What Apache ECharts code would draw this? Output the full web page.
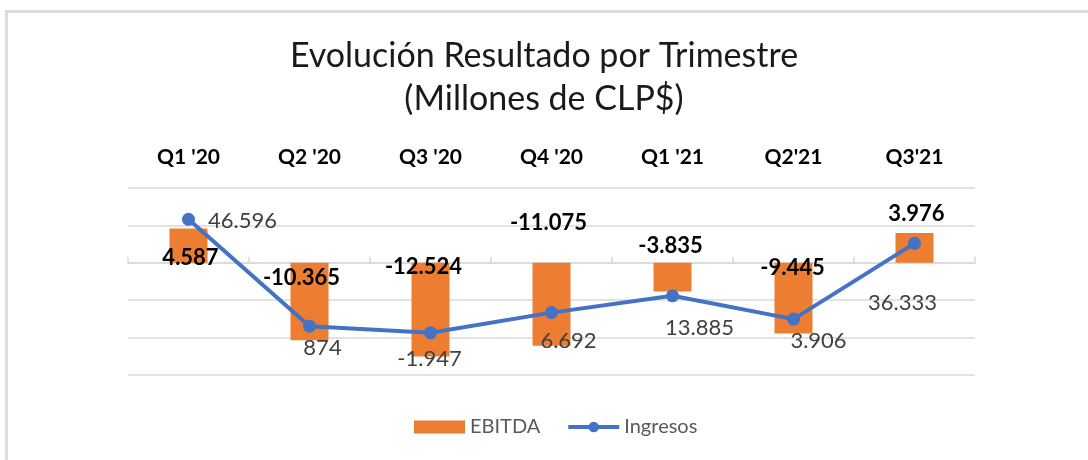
<!DOCTYPE html>
<html>
<head>
<meta charset="utf-8">
<script src="https://cdn.jsdelivr.net/npm/echarts@6/dist/echarts.min.js"></script>
<style>
    html, body { margin: 0; padding: 0; background: #fff; }
    #chart { width: 1088px; height: 460px; }
    .frame {
        position: absolute;
        left: 5px;
        top: 10px;
        width: 1090px;
        height: 460px;
        border-top: 3px solid #dcdcdc;
        border-left: 3px solid #dcdcdc;
        pointer-events: none;
    }
</style>
</head>
<body>
<div id="chart"></div>
<div class="frame"></div>
<script>
// trimestres
const quarters = ["Q1 '20", "Q2 '20", "Q3 '20", "Q4 '20", "Q1 '21", "Q2'21", "Q3'21"]
// EBITDA (millones CLP$)
const ebitda = [4587, -10365, -12524, -11075, -3835, -9445, 3976]
// Ingresos (millones CLP$)
const ingresos = [46596, 874, -1947, 6692, 13885, 3906, 36333]

// posicion manual de etiquetas (como en el grafico original)
const ebitdaLabelOffset = [[2, 12], [-8, -24], [-7, -43], [-3, -81], [-2, -31], [-1, -30], [2, -34]]
const ingresosLabelOffset = [[54, 2], [13, 22], [-1, 26], [17, 28], [27, 32], [25, 22], [-12, 60]]

const fmt = (v) => {
    const s = Math.abs(v).toString().replace(/\B(?=(\d{3})+(?!\d))/g, '.')
    return (v < 0 ? '-' : '') + s
}

const myChart = echarts.init(document.getElementById('chart'))

const option = {
    animation: false,
    title: {
        text: 'Evolución Resultado por Trimestre\n(Millones de CLP$)',
        left: 'center',
        top: 30,
        textStyle: {
            fontFamily: 'Lato',
            fontSize: 34,
            fontWeight: 'normal',
            color: '#1a1a1a',
            lineHeight: 43
        }
    },
    legend: {
        left: 409,
        top: 412,
        itemWidth: 51,
        itemHeight: 13,
        itemGap: 26,
        lineStyle: { width: 4 },
        textStyle: { fontFamily: 'Lato', fontSize: 20, color: '#595959' },
        data: [
            { name: 'EBITDA', icon: 'rect' },
            { name: 'Ingresos' }
        ]
    },
    grid: {
        left: 128,
        right: 113,
        top: 188,
        bottom: 85
    },
    xAxis: {
        type: 'category',
        position: 'top',
        data: quarters,
        axisLine: { lineStyle: { color: '#d9d9d9', width: 1.5 } },
        axisTick: { show: true, length: 6, lineStyle: { color: '#d9d9d9', width: 1.5 } },
        axisLabel: {
            margin: 20,
            fontFamily: 'Lato',
            fontSize: 21,
            fontWeight: 'bold',
            color: '#000'
        }
    },
    yAxis: [
        {
            type: 'value',
            min: -15000,
            max: 10000,
            interval: 5000,
            axisLabel: { show: false },
            axisLine: { show: false },
            axisTick: { show: false },
            splitLine: { lineStyle: { color: '#d9d9d9', width: 1.5 } }
        },
        {
            type: 'value',
            min: -20000,
            max: 60000,
            axisLabel: { show: false },
            axisLine: { show: false },
            axisTick: { show: false },
            splitLine: { show: false }
        }
    ],
    series: [
        {
            name: 'EBITDA',
            type: 'bar',
            yAxisIndex: 0,
            barWidth: 38,
            itemStyle: { color: '#ED7D31' },
            data: ebitda.map((v, i) => ({
                value: v,
                label: { offset: ebitdaLabelOffset[i] }
            })),
            label: {
                show: true,
                position: 'inside',
                formatter: (p) => fmt(p.value),
                fontFamily: 'Lato',
                fontSize: 22,
                fontWeight: 'bold',
                color: '#000'
            },
            z: 2
        },
        {
            name: 'Ingresos',
            type: 'line',
            yAxisIndex: 1,
            symbol: 'circle',
            symbolSize: 13,
            lineStyle: { color: '#4472C4', width: 4 },
            itemStyle: { color: '#4472C4' },
            data: ingresos.map((v, i) => ({
                value: v,
                label: { offset: ingresosLabelOffset[i] }
            })),
            label: {
                show: true,
                position: 'inside',
                formatter: (p) => fmt(p.value),
                fontFamily: 'Lato',
                fontSize: 22,
                color: '#404040'
            },
            z: 3
        }
    ]
}

myChart.setOption(option)
window.addEventListener('resize', () => myChart.resize())
</script>
</body>
</html>
